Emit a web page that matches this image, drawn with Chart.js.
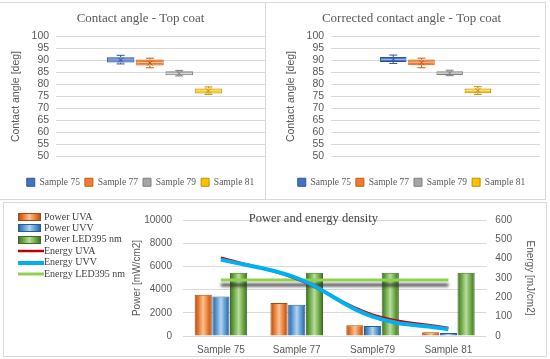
<!DOCTYPE html>
<html lang="en">
<head>
<meta charset="UTF-8">
<title>Contact angle and power / energy density</title>
<script src="https://cdn.jsdelivr.net/npm/chart.js@4.4.0/dist/chart.umd.min.js"></script>
<style>
    body { margin: 0; background: #fff; }
    .panel { position: absolute; border: 1px solid #d9d9d9; box-sizing: border-box; background: #fff; overflow: hidden; }
    .panel div { position: absolute; top: 0; bottom: 0; }
    #p1 { left: -1px; top: 2px; width: 267px; height: 198px; }
    #p2 { left: 265px; top: 2px; width: 281px; height: 198px; }
    #p1 div, #p2 div { left: 8px; right: -8px; }
    #p3 { left: 3px; top: 202px; width: 544px; height: 155px; overflow: visible; }
    #p3 div { left: 0; right: 0; }
</style>
</head>
<body>

<div class="panel" id="p1"><div><canvas id="angle"></canvas></div></div>
<div class="panel" id="p2"><div><canvas id="angleCorr"></canvas></div></div>
<div class="panel" id="p3"><div><canvas id="power"></canvas></div></div>

<script>
// ---- data: contact angle box plots ----
const samples = ['Sample 75', 'Sample 77', 'Sample 79', 'Sample 81'];
const boxColors = ['#4472C4', '#ED7D31', '#A5A5A5', '#FFC000'];
const boxEdges = ['#2F5597', '#C55A11', '#7F7F7F', '#BF9000'];

const angleMin  = [88.6, 87.0, 83.6, 75.9];
const angleQ1   = [89.2, 88.0, 83.9, 76.3];
const angleMed  = [90.3, 89.2, 84.6, 77.4];
const angleQ3   = [91.4, 90.5, 85.5, 78.4];
const angleMax  = [92.2, 91.0, 85.9, 79.0];
const angleMean = [90.2, 89.0, 84.6, 77.3];

const corrMin  = [88.8, 87.0, 83.7, 75.9];
const corrQ1   = [89.4, 88.1, 84.0, 76.4];
const corrMed  = [90.5, 89.3, 84.7, 77.5];
const corrQ3   = [91.5, 90.4, 85.5, 78.4];
const corrMax  = [92.3, 91.0, 86.0, 79.1];
const corrMean = [90.4, 89.1, 84.7, 77.5];

const angleTicks = { min: 50, max: 100, step: 5 };

// ---- data: power and energy density ----
const powerCats = ['Sample 75', 'Sample 77', 'Sample79', 'Sample 81'];
const powerUVA = [3550, 2850, 920, 330];
const powerUVV = [3400, 2700, 870, 250];
const powerLED = [5450, 5450, 5450, 5450];
const energyUVA = [405, 295, 110, 42];
const energyUVV = [395, 300, 100, 35];
const energyLED = [290, 290, 290, 290];

const SERIF = "'Liberation Serif', serif";
const SANS = "'Liberation Sans', sans-serif";
const TXT = '#595959';
const GRID = '#d9d9d9';

// whiskers, median and mean marker on top of the floating bars
const boxWhisker = {
    id: 'boxWhisker',
    afterDatasetsDraw(chart) {
        const ctx = chart.ctx, ys = chart.scales.y;
        chart.data.datasets.forEach((ds, i) => {
            const el = chart.getDatasetMeta(i).data[0];
            if (!el) return;
            const s = ds.stats, x = el.x, w = el.width;
            const yMin = ys.getPixelForValue(s.min), yMax = ys.getPixelForValue(s.max);
            const yQ1 = ys.getPixelForValue(s.q1), yQ3 = ys.getPixelForValue(s.q3);
            const yMed = ys.getPixelForValue(s.med), yMean = ys.getPixelForValue(s.mean);
            ctx.save();
            ctx.strokeStyle = ds.borderColor;
            ctx.lineWidth = 1;
            ctx.beginPath();
            ctx.moveTo(x, yQ3); ctx.lineTo(x, yMax);
            ctx.moveTo(x - 4, yMax); ctx.lineTo(x + 4, yMax);
            ctx.moveTo(x, yQ1); ctx.lineTo(x, yMin);
            ctx.moveTo(x - 4, yMin); ctx.lineTo(x + 4, yMin);
            ctx.stroke();
            ctx.strokeStyle = 'rgba(255,255,255,0.55)';
            ctx.beginPath();
            ctx.moveTo(x - w / 2 + 1, yMed); ctx.lineTo(x + w / 2 - 1, yMed);
            ctx.stroke();
            ctx.strokeStyle = ds.borderColor;
            ctx.beginPath();
            ctx.moveTo(x - 2.5, yMean - 2.5); ctx.lineTo(x + 2.5, yMean + 2.5);
            ctx.moveTo(x - 2.5, yMean + 2.5); ctx.lineTo(x + 2.5, yMean - 2.5);
            ctx.stroke();
            ctx.restore();
        });
    }
};

function makeBoxChart(id, title, mins, q1s, meds, q3s, maxs, means, padLeft, padRight) {
    const datasets = samples.map((name, i) => ({
        label: name,
        data: [[q1s[i], q3s[i]]],
        stats: { min: mins[i], q1: q1s[i], med: meds[i], q3: q3s[i], max: maxs[i], mean: means[i] },
        backgroundColor: boxColors[i],
        borderColor: boxEdges[i],
        borderWidth: 1,
        borderSkipped: false,
        barPercentage: 0.94,
        categoryPercentage: 0.54
    }));
    return new Chart(document.getElementById(id), {
        type: 'bar',
        data: { labels: [''], datasets: datasets },
        plugins: [boxWhisker],
        options: {
            responsive: true,
            maintainAspectRatio: false,
            animation: false,
            layout: { padding: { left: padLeft, right: padRight, top: 0, bottom: 2 } },
            plugins: {
                title: { display: true, text: title, color: TXT, font: { family: SERIF, size: 13, weight: 'normal' }, padding: { top: 8, bottom: 10 } },
                legend: { position: 'bottom', labels: { boxWidth: 8, boxHeight: 8, padding: 5, color: TXT, font: { family: SERIF, size: 9.5 } } },
                tooltip: { enabled: false }
            },
            scales: {
                x: {
                    grid: { display: false }, border: { display: false }, ticks: { display: false },
                    afterFit: (s) => { s.height = 16; }
                },
                y: {
                    min: angleTicks.min, max: angleTicks.max,
                    ticks: { stepSize: angleTicks.step, autoSkip: false, color: TXT, font: { family: SANS, size: 10.5 }, padding: 7 },
                    grid: { color: GRID, drawTicks: false },
                    border: { display: false },
                    title: { display: true, text: 'Contact angle [deg]', color: TXT, font: { family: SANS, size: 10.5 }, padding: 2 }
                }
            }
        }
    });
}

makeBoxChart('angle', 'Contact angle - Top coat', angleMin, angleQ1, angleMed, angleQ3, angleMax, angleMean, 0, 0);
makeBoxChart('angleCorr', 'Corrected contact angle - Top coat', corrMin, corrQ1, corrMed, corrQ3, corrMax, corrMean, 9, 13);

// ---- power / energy chart ----
const barShades = [
    ['#A84B12', '#ED7D31', '#F8C39B'],
    ['#2A5C94', '#5B9BD5', '#B4D3EE'],
    ['#3F6B25', '#70AD47', '#B9DC9F']
];
const lineColors = ['#C00000', '#00B0F0', '#92D050'];
const lineWidths = [2.5, 4, 3];

function shade(ctx, x0, x1, c) {
    const g = ctx.createLinearGradient(x0, 0, x1, 0);
    g.addColorStop(0, c[0]);
    g.addColorStop(0.25, c[1]);
    g.addColorStop(0.5, c[2]);
    g.addColorStop(0.75, c[1]);
    g.addColorStop(1, c[0]);
    return g;
}

function barFill(k) {
    return (c) => {
        const el = c.chart.getDatasetMeta(c.datasetIndex).data[c.dataIndex];
        if (!el || !el.width) return barShades[k][1];
        return shade(c.chart.ctx, el.x - el.width / 2, el.x + el.width / 2, barShades[k]);
    };
}

function barSwatch(k) {
    const cv = document.createElement('canvas');
    cv.width = 23; cv.height = 8;
    const g = cv.getContext('2d');
    g.fillStyle = shade(g, 0, 23, barShades[k]);
    g.fillRect(0, 0, 23, 8);
    g.strokeStyle = barShades[k][0];
    g.strokeRect(0.5, 0.5, 22, 7);
    return cv;
}

function lineSwatch(k) {
    const cv = document.createElement('canvas');
    cv.width = 26; cv.height = 6;
    const g = cv.getContext('2d');
    g.strokeStyle = lineColors[k];
    g.lineWidth = lineWidths[k];
    g.beginPath(); g.moveTo(0, 3); g.lineTo(26, 3); g.stroke();
    return cv;
}

const swatches = [barSwatch(0), barSwatch(1), barSwatch(2), lineSwatch(0), lineSwatch(1), lineSwatch(2)];

// green line gets the grey drop shadow seen in the original
const lineShadow = {
    id: 'lineShadow',
    beforeDatasetDraw(chart, args) {
        if (args.index !== 5) return;
        const ctx = chart.ctx;
        ctx.save();
        ctx.shadowColor = 'rgba(40,40,40,0.85)';
        ctx.shadowOffsetY = 5;
        ctx.shadowBlur = 3;
    },
    afterDatasetDraw(chart, args) {
        if (args.index === 5) chart.ctx.restore();
    }
};

// title sits inside the plot, over the top grid line
const innerTitle = {
    id: 'innerTitle',
    afterDraw(chart) {
        const ctx = chart.ctx, a = chart.chartArea;
        ctx.save();
        ctx.font = '12.5px ' + SERIF;
        ctx.fillStyle = '#404040';
        ctx.textAlign = 'center';
        ctx.textBaseline = 'middle';
        ctx.fillText('Power and energy density', a.left + a.width * 0.43, a.top - 1);
        ctx.restore();
    }
};

// legend list on the left, in the free space before the power axis
const sideLegend = {
    id: 'sideLegend',
    afterDraw(chart) {
        const ctx = chart.ctx;
        ctx.save();
        ctx.font = '10px ' + SERIF;
        ctx.fillStyle = '#404040';
        ctx.textBaseline = 'middle';
        chart.data.datasets.forEach((ds, i) => {
            const y = 14 + i * 11.4;
            const sw = swatches[i];
            ctx.drawImage(sw, 14, Math.round(y - sw.height / 2));
            ctx.fillText(ds.label, 40, y);
        });
        ctx.restore();
    }
};

function barSet(label, data, k) {
    return {
        type: 'bar', label: label, data: data, yAxisID: 'y', order: 4 + k,
        backgroundColor: barFill(k), borderColor: barShades[k][0], borderWidth: 1,
        barPercentage: 0.97, categoryPercentage: 0.7
    };
}

function lineSet(label, data, k, order) {
    return {
        type: 'line', label: label, data: data, yAxisID: 'y1', order: order,
        borderColor: lineColors[k], borderWidth: lineWidths[k], pointRadius: 0,
        tension: k === 2 ? 0 : 0.4, fill: false
    };
}

const plainTick = (v) => String(v);

const powerChart = new Chart(document.getElementById('power'), {
    type: 'bar',
    data: {
        labels: powerCats,
        datasets: [
            barSet('Power UVA', powerUVA, 0),
            barSet('Power UVV', powerUVV, 1),
            barSet('Power LED395 nm', powerLED, 2),
            lineSet('Energy UVA', energyUVA, 0, 2),
            lineSet('Energy UVV', energyUVV, 1, 1),
            lineSet('Energy LED395 nm', energyLED, 2, 3)
        ]
    },
    plugins: [lineShadow, innerTitle, sideLegend],
    options: {
        responsive: true,
        maintainAspectRatio: false,
        animation: false,
        layout: { padding: { left: 125, right: 8, top: 4, bottom: 0 } },
        plugins: {
            legend: { display: false },
            tooltip: { enabled: false }
        },
        scales: {
            x: {
                grid: { display: false }, border: { display: false },
                ticks: { color: TXT, font: { family: SANS, size: 10 }, padding: 0 }
            },
            y: {
                position: 'left', min: 0, max: 10000,
                ticks: { stepSize: 2000, callback: plainTick, color: TXT, font: { family: SANS, size: 10 }, padding: 11 },
                grid: { color: GRID, drawTicks: false }, border: { display: false },
                title: { display: true, text: 'Power [mW/cm2]', color: TXT, font: { family: SANS, size: 10 }, padding: { top: 2, bottom: 4 } },
                afterFit: (s) => { s.width = 54; }
            },
            y1: {
                position: 'right', min: 0, max: 600,
                ticks: { stepSize: 100, callback: plainTick, color: TXT, font: { family: SANS, size: 10 }, padding: 9 },
                grid: { drawOnChartArea: false, display: false, drawTicks: false }, border: { display: false },
                title: { display: true, text: 'Energy [mJ/cm2]', color: TXT, font: { family: SANS, size: 10 }, padding: { top: 2, bottom: 3 } }
            }
        }
    }
});
// second pass so the bar gradients know where each bar sits
powerChart.update('none');
</script>

</body>
</html>
